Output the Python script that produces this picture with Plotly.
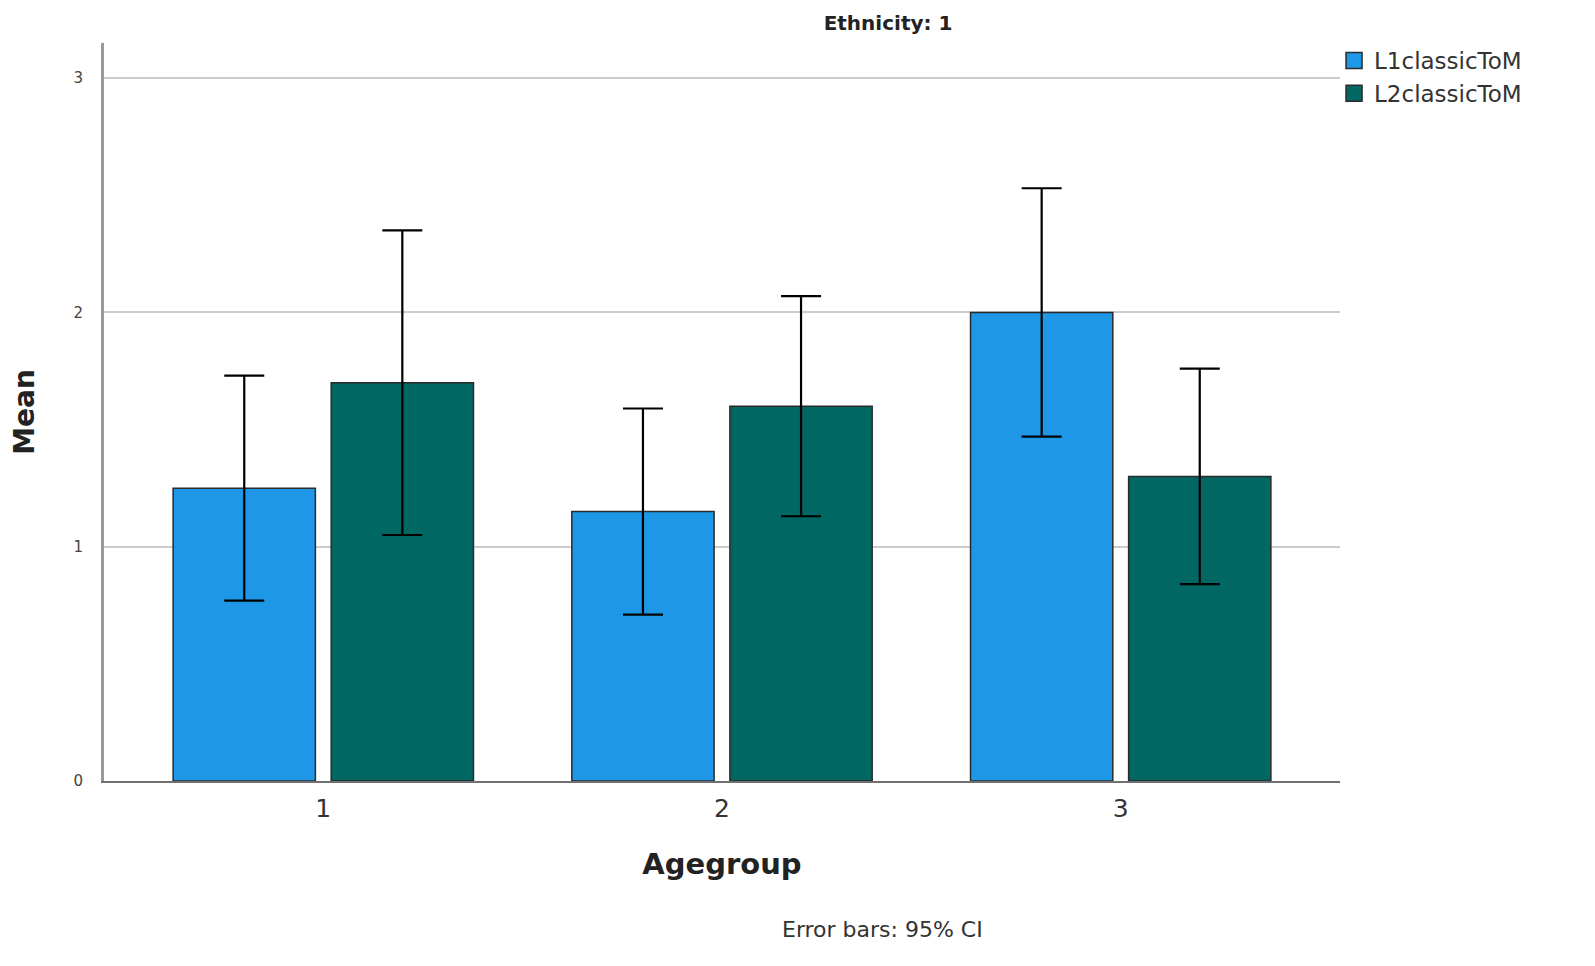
import plotly.graph_objects as go

agegroups = ["1", "2", "3"]
series_names = ["L1classicToM", "L2classicToM"]
l1_mean = [1.25, 1.15, 2.00]
l1_upper = [1.73, 1.59, 2.53]
l1_lower = [0.77, 0.71, 1.47]
l2_mean = [1.70, 1.60, 1.30]
l2_upper = [2.35, 2.07, 1.76]
l2_lower = [1.05, 1.13, 0.84]
y_ticks = [0, 1, 2, 3]

FONT = "DejaVu Sans"
COLORS = ["#1E98E6", "#006763"]

# page geometry (reference pixels); the page body adds an 8px margin
PL, PR, PT, PB = 97, 1340, 43, 781
W, H = 1595 - 16, 966 - 16
PW, PH = PR - PL, PB - PT


def px(x):
    return (x - PL) / PW


def py(y):
    return (PB - y) / PH


def bar(name, mean, up, lo, color):
    return go.Bar(
        name=name, x=agegroups, y=mean, showlegend=False,
        marker=dict(color=color, line=dict(color="#2a2a2a", width=1.5)),
        error_y=dict(type="data", symmetric=False,
                     array=[u - m for u, m in zip(up, mean)],
                     arrayminus=[m - l for m, l in zip(mean, lo)],
                     color="black", thickness=2.2, width=20),
    )


fig = go.Figure([
    bar(series_names[0], l1_mean, l1_upper, l1_lower, COLORS[0]),
    bar(series_names[1], l2_mean, l2_upper, l2_lower, COLORS[1]),
])
# legend entries with larger square swatches
for name, c in zip(series_names, COLORS):
    fig.add_trace(go.Scatter(
        x=[None], y=[None], mode="markers", name=name, showlegend=True,
        marker=dict(symbol="square", size=24, color=c, line=dict(color="#2a2a2a", width=1.5)),
    ))

fig.update_layout(
    width=W, height=H,
    margin=dict(l=PL - 8, r=1595 - PR - 8, t=PT - 8, b=966 - PB - 8),
    paper_bgcolor="white", plot_bgcolor="white",
    barmode="group", bargap=0.207, bargroupgap=0.1,
    font=dict(family=FONT, color="#222222"),
    showlegend=True,
    legend=dict(x=px(1334), xanchor="left", y=py(39), yanchor="top",
                font=dict(size=23, family=FONT, color="#333333"),
                itemsizing="trace", itemwidth=30, tracegroupgap=0,
                bgcolor="rgba(0,0,0,0)"),
    title=dict(text="<b>Ethnicity: 1</b>", x=(888 - 8) / W, xanchor="center",
               y=1 - (23 - 8) / H, yanchor="middle",
               font=dict(size=20, family=FONT, color="#222222")),
    annotations=[
        dict(text="Error bars: 95% CI", xref="paper", yref="paper",
             x=px(880), y=py(929), xanchor="center", yanchor="middle",
             showarrow=False, font=dict(size=22, family=FONT, color="#333333")),
    ],
)

fig.update_xaxes(
    type="category", range=[-0.55, 2.55],
    showline=True, linecolor="#707070", linewidth=2,
    ticks="", ticklabelstandoff=4,
    tickfont=dict(size=25, family=FONT, color="#333333"),
    title=dict(text="<b>Agegroup</b>", font=dict(size=29, family=FONT, color="#222222"), standoff=32),
    showgrid=False, zeroline=False,
)
fig.update_yaxes(
    range=[0, 3.15], tickvals=y_ticks,
    showline=True, linecolor="#999999", linewidth=3,
    ticks="", ticklabelstandoff=15,
    tickfont=dict(size=15, family=FONT, color="#444444"),
    showgrid=True, gridcolor="#cccccc", gridwidth=1.5, zeroline=False,
    title=dict(text="<b>Mean</b>", font=dict(size=28, family=FONT, color="#222222"), standoff=34),
)

fig.write_html("out.html")
